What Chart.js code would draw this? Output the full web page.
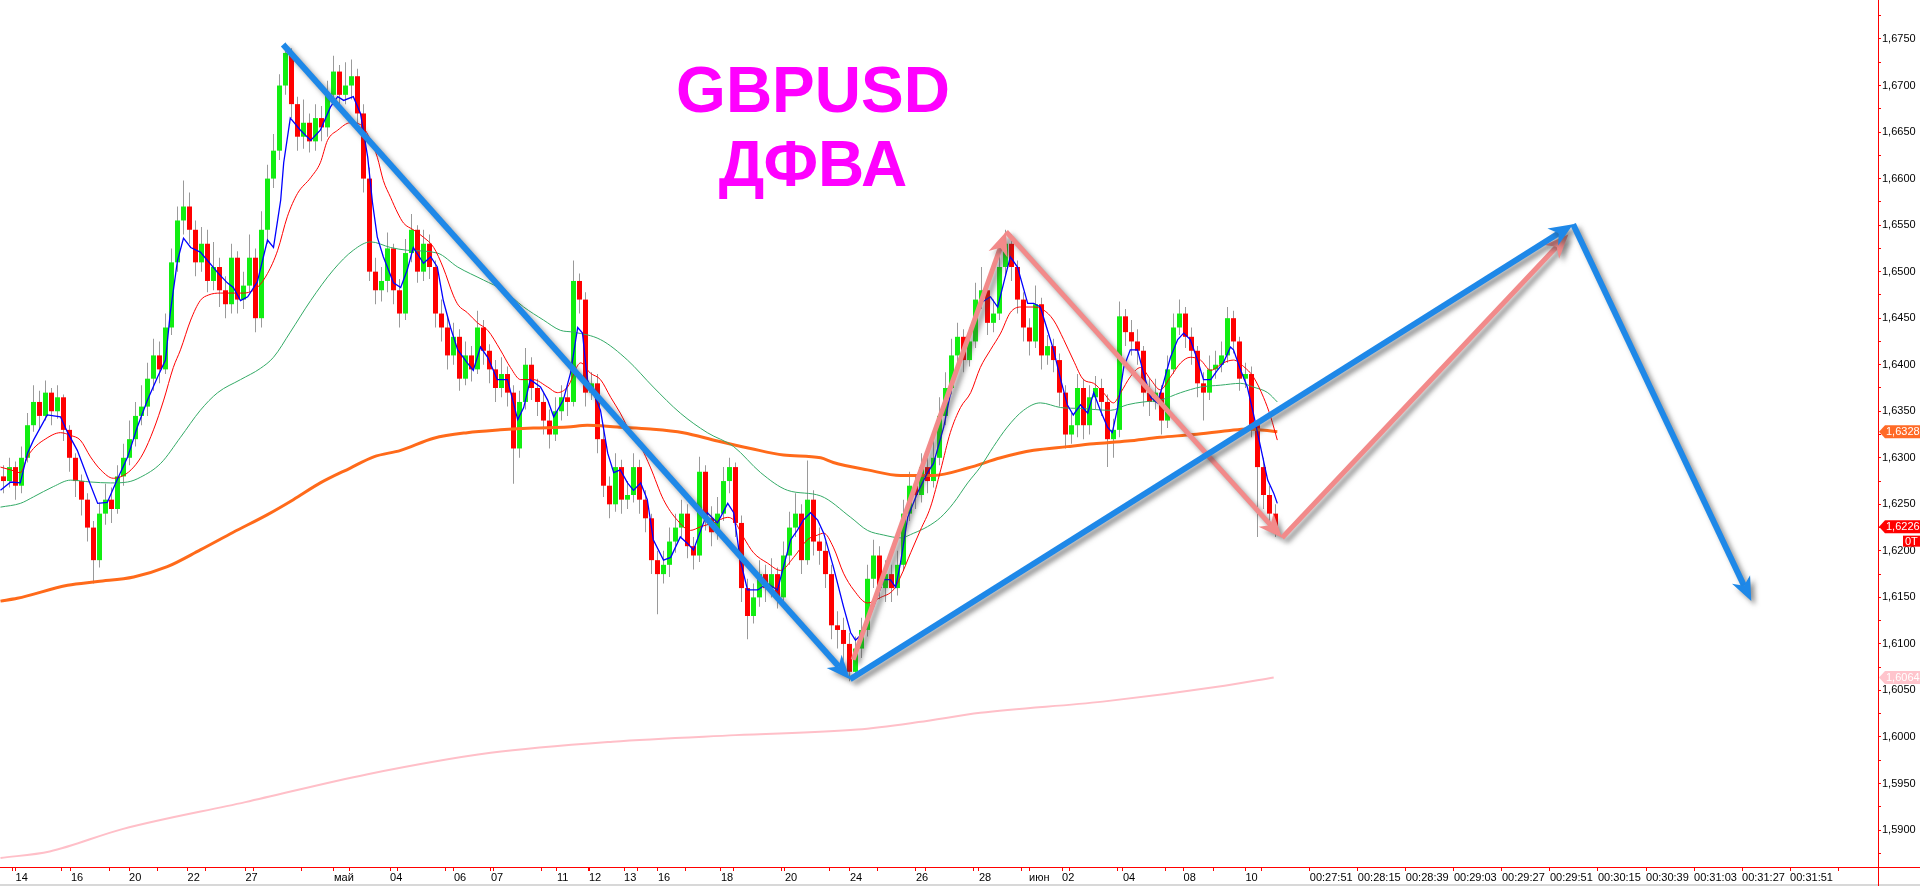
<!DOCTYPE html>
<html>
<head>
<meta charset="utf-8">
<script src="https://cdn.jsdelivr.net/npm/chart.js@4.4.1/dist/chart.umd.min.js"></script>
<style>
  html, body { margin: 0; padding: 0; background: #fff; overflow: hidden; }
  #wrap { width: 1920px; height: 886px; position: relative; }
</style>
</head>
<body>
<div id="wrap"><canvas id="gbpusd"></canvas></div>
<script>
// GBPUSD candles (one value per bar), open of a bar = previous close
const firstOpen = 1.6280;
const close = [
  1.6275, 1.6290, 1.6270, 1.6300, 1.6335, 1.6360, 1.6345, 1.6370, 1.6350, 1.6365,
  1.6330, 1.6300, 1.6275, 1.6255, 1.6225, 1.6190, 1.6240, 1.6255, 1.6245, 1.6280,
  1.6300, 1.6320, 1.6345, 1.6355, 1.6385, 1.6410, 1.6395, 1.6440, 1.6510, 1.6555,
  1.6570, 1.6545, 1.6510, 1.6530, 1.6490, 1.6505, 1.6480, 1.6465, 1.6515, 1.6470,
  1.6485, 1.6515, 1.6450, 1.6545, 1.6600, 1.6630, 1.6700, 1.6735, 1.6680, 1.6645,
  1.6660, 1.6640, 1.6665, 1.6655, 1.6690, 1.6715, 1.6690, 1.6700, 1.6710, 1.6670,
  1.6600, 1.6500, 1.6480, 1.6490, 1.6525, 1.6480, 1.6455, 1.6520, 1.6545, 1.6500,
  1.6530, 1.6505, 1.6455, 1.6440, 1.6410, 1.6430, 1.6385, 1.6410, 1.6395, 1.6440,
  1.6415, 1.6395, 1.6375, 1.6390, 1.6370, 1.6310, 1.6360, 1.6400, 1.6375, 1.6360,
  1.6340, 1.6325, 1.6350, 1.6365, 1.6360, 1.6490, 1.6470, 1.6370, 1.6380, 1.6320,
  1.6270, 1.6250, 1.6290, 1.6255, 1.6260, 1.6290, 1.6255, 1.6235, 1.6190, 1.6175,
  1.6185, 1.6210, 1.6225, 1.6240, 1.6205, 1.6195, 1.6285, 1.6235, 1.6220, 1.6240,
  1.6275, 1.6290, 1.6230, 1.6160, 1.6130, 1.6150, 1.6175, 1.6160, 1.6175, 1.6150,
  1.6195, 1.6225, 1.6240, 1.6190, 1.6255, 1.6210, 1.6200, 1.6175, 1.6120, 1.6115,
  1.6100, 1.6070, 1.6095, 1.6115, 1.6170, 1.6195, 1.6160, 1.6175, 1.6160, 1.6185,
  1.6240, 1.6270, 1.6260, 1.6290, 1.6275, 1.6300, 1.6345, 1.6375, 1.6410, 1.6430,
  1.6405, 1.6425, 1.6470, 1.6480, 1.6445, 1.6455, 1.6505, 1.6530, 1.6505, 1.6470,
  1.6440, 1.6425, 1.6465, 1.6410, 1.6420, 1.6405, 1.6370, 1.6325, 1.6335, 1.6375,
  1.6335, 1.6365, 1.6375, 1.6360, 1.6320, 1.6330, 1.6452, 1.6435, 1.6425, 1.6415,
  1.6370, 1.6360, 1.6370, 1.6340, 1.6395, 1.6440, 1.6455, 1.6430, 1.6415, 1.6380,
  1.6370, 1.6395, 1.6400, 1.6410, 1.6450, 1.6425, 1.6385, 1.6390, 1.6335, 1.6290,
  1.6260, 1.6240, 1.6226
];
const high = [
  1.6292, 1.6300, 1.6296, 1.6312, 1.6348, 1.6378, 1.6372, 1.6383, 1.6375, 1.6378,
  1.6368, 1.6335, 1.6305, 1.6282, 1.6262, 1.6232, 1.6252, 1.6272, 1.6268, 1.6292,
  1.6315, 1.6340, 1.6360, 1.6378, 1.6402, 1.6428, 1.6425, 1.6455, 1.6525, 1.6570,
  1.6598, 1.6585, 1.6555, 1.6548, 1.6545, 1.6532, 1.6515, 1.6495, 1.6530, 1.6522,
  1.6500, 1.6540, 1.6525, 1.6565, 1.6615, 1.6648, 1.6712, 1.6746, 1.6740, 1.6688,
  1.6685, 1.6670, 1.6680, 1.6678, 1.6705, 1.6732, 1.6722, 1.6725, 1.6728, 1.6718,
  1.6680, 1.6612, 1.6515, 1.6505, 1.6542, 1.6530, 1.6492, 1.6535, 1.6562, 1.6550,
  1.6545, 1.6540, 1.6512, 1.6470, 1.6452, 1.6445, 1.6438, 1.6425, 1.6420, 1.6458,
  1.6448, 1.6422, 1.6405, 1.6408, 1.6398, 1.6378, 1.6372, 1.6418, 1.6408, 1.6385,
  1.6370, 1.6352, 1.6365, 1.6378, 1.6380, 1.6512, 1.6498, 1.6478, 1.6392, 1.6390,
  1.6330, 1.6280, 1.6305, 1.6298, 1.6275, 1.6305, 1.6298, 1.6265, 1.6240, 1.6200,
  1.6200, 1.6225, 1.6240, 1.6255, 1.6250, 1.6215, 1.6301, 1.6292, 1.6248, 1.6258,
  1.6290, 1.6300, 1.6295, 1.6238, 1.6170, 1.6165, 1.6190, 1.6185, 1.6192, 1.6182,
  1.6210, 1.6242, 1.6262, 1.6250, 1.6297, 1.6265, 1.6225, 1.6210, 1.6185, 1.6135,
  1.6128, 1.6112, 1.6108, 1.6128, 1.6185, 1.6212, 1.6205, 1.6190, 1.6185, 1.6200,
  1.6255, 1.6285, 1.6280, 1.6305, 1.6300, 1.6318, 1.6365, 1.6392, 1.6428, 1.6445,
  1.6438, 1.6440, 1.6488, 1.6505, 1.6488, 1.6470, 1.6520, 1.6545, 1.6540, 1.6512,
  1.6478, 1.6450, 1.6485, 1.6472, 1.6432, 1.6428, 1.6412, 1.6378, 1.6348, 1.6390,
  1.6385, 1.6378, 1.6388, 1.6385, 1.6368, 1.6342, 1.6468, 1.6460, 1.6448, 1.6438,
  1.6420, 1.6385, 1.6385, 1.6378, 1.6410, 1.6455, 1.6470, 1.6462, 1.6440, 1.6420,
  1.6392, 1.6410, 1.6415, 1.6425, 1.6462, 1.6458, 1.6430, 1.6402, 1.6398, 1.6340,
  1.6300, 1.6270, 1.6250
];
const low = [
  1.6262, 1.6268, 1.6255, 1.6262, 1.6295, 1.6328, 1.6330, 1.6340, 1.6335, 1.6342,
  1.6318, 1.6285, 1.6258, 1.6238, 1.6210, 1.6165, 1.6182, 1.6228, 1.6230, 1.6240,
  1.6270, 1.6292, 1.6312, 1.6335, 1.6345, 1.6372, 1.6380, 1.6390, 1.6432, 1.6500,
  1.6540, 1.6530, 1.6495, 1.6500, 1.6478, 1.6480, 1.6462, 1.6450, 1.6455, 1.6455,
  1.6460, 1.6478, 1.6435, 1.6440, 1.6530, 1.6590, 1.6620, 1.6690, 1.6665, 1.6630,
  1.6632, 1.6628, 1.6630, 1.6640, 1.6645, 1.6680, 1.6675, 1.6680, 1.6685, 1.6655,
  1.6585, 1.6490, 1.6465, 1.6468, 1.6478, 1.6465, 1.6440, 1.6448, 1.6510, 1.6488,
  1.6490, 1.6492, 1.6440, 1.6425, 1.6395, 1.6400, 1.6372, 1.6378, 1.6382, 1.6390,
  1.6400, 1.6380, 1.6360, 1.6365, 1.6355, 1.6272, 1.6300, 1.6352, 1.6362, 1.6345,
  1.6325, 1.6310, 1.6318, 1.6340, 1.6345, 1.6355, 1.6455, 1.6355, 1.6362, 1.6305,
  1.6258, 1.6235, 1.6242, 1.6240, 1.6245, 1.6252, 1.6240, 1.6220, 1.6175, 1.6132,
  1.6165, 1.6172, 1.6198, 1.6215, 1.6192, 1.6180, 1.6188, 1.6222, 1.6205, 1.6212,
  1.6232, 1.6262, 1.6215, 1.6145, 1.6105, 1.6122, 1.6140, 1.6145, 1.6150, 1.6138,
  1.6145, 1.6185, 1.6215, 1.6175, 1.6185, 1.6195, 1.6185, 1.6160, 1.6105, 1.6095,
  1.6082, 1.6060, 1.6065, 1.6085, 1.6108, 1.6160, 1.6148, 1.6145, 1.6145, 1.6152,
  1.6178, 1.6232, 1.6245, 1.6252, 1.6262, 1.6268, 1.6292, 1.6335, 1.6368, 1.6400,
  1.6392, 1.6398, 1.6418, 1.6460, 1.6432, 1.6435, 1.6448, 1.6495, 1.6490, 1.6455,
  1.6425, 1.6410, 1.6418, 1.6395, 1.6400, 1.6392, 1.6355, 1.6310, 1.6315, 1.6322,
  1.6320, 1.6325, 1.6352, 1.6345, 1.6290, 1.6300, 1.6322, 1.6420, 1.6410, 1.6400,
  1.6355, 1.6345, 1.6352, 1.6325, 1.6332, 1.6390, 1.6432, 1.6418, 1.6400, 1.6365,
  1.6340, 1.6362, 1.6385, 1.6392, 1.6402, 1.6412, 1.6372, 1.6375, 1.6322, 1.6215,
  1.6245, 1.6228, 1.6215
];

// moving averages: [bar index, price]
const blueMA = [
  [-0.5,1.6265],[1.2,1.6274],[2.8,1.6273],[4,1.6305],[5,1.6319],[7.3,1.6346],[9.5,1.6344],[10.7,1.6327],
  [12.3,1.6308],[14,1.6279],[15.7,1.6251],[17.3,1.6252],[18.7,1.6273],[20.7,1.6301],[22.3,1.6333],[24,1.6362],
  [25.7,1.6387],[27,1.6405],[27.8,1.6456],[29,1.6512],[30,1.6536],[31.2,1.6526],[32.8,1.6521],[34,1.6512],
  [35.7,1.6499],[37.3,1.6488],[38.3,1.6483],[39.5,1.6469],[40.7,1.6473],[42.3,1.6489],[44,1.6534],[45,1.6526],
  [46.2,1.6577],[46.7,1.6617],[47.8,1.6665],[49.5,1.6652],[51.2,1.6641],[52.8,1.6652],[54.5,1.6677],[55.7,1.6688],
  [56.7,1.6684],[58.3,1.6688],[59.5,1.6670],[60.7,1.6623],[61.5,1.6574],[62.3,1.6537],[63.3,1.6516],[65,1.6488],
  [66.2,1.6483],[67.3,1.6502],[68.3,1.6526],[70,1.6509],[71.2,1.6516],[72.3,1.6505],[73.3,1.6469],[74.5,1.6440],
  [75.7,1.6416],[77.3,1.6402],[78.3,1.6394],[79.5,1.6419],[80.7,1.6408],[82.3,1.6384],[84,1.6384],[85.7,1.6341],
  [86.7,1.6354],[87.8,1.6384],[89.5,1.6376],[90.7,1.6362],[91.7,1.6344],[93.3,1.6362],[94.5,1.6391],[95.7,1.6440],
  [96.5,1.6434],[97.3,1.6384],[98.3,1.6370],[99.5,1.6351],[100.7,1.6305],[101.7,1.6284],[102.8,1.6287],[104,1.6273],
  [105,1.6265],[106.2,1.6273],[107.3,1.6255],[108.3,1.6212],[110,1.6190],[111.2,1.6193],[112.8,1.6215],[114,1.6208],
  [115,1.6201],[116.2,1.6222],[117.3,1.6241],[119,1.6230],[120.7,1.6251],[121.7,1.6241],[122.8,1.6190],[124,1.6158],
  [125.7,1.6158],[127.3,1.6165],[129,1.6158],[130,1.6183],[131.2,1.6212],[132.3,1.6222],[133.3,1.6233],[134.5,1.6241],
  [135.7,1.6233],[136.7,1.6219],[138.3,1.6183],[140,1.6140],[141.2,1.6112],[142,1.6104],[143.3,1.6112],[145,1.6140],
  [146.7,1.6169],[147.8,1.6169],[148.7,1.6161],[149.5,1.6187],[150.7,1.6236],[152.3,1.6262],[154,1.6284],[155,1.6294],
  [156.7,1.6333],[158.3,1.6384],[160,1.6419],[161.7,1.6448],[162.8,1.6466],[164.5,1.6473],[165.7,1.6462],[166.7,1.6488],
  [167.8,1.6516],[169,1.6505],[170.7,1.6466],[171.7,1.6466],[172.8,1.6462],[174,1.6437],[175,1.6416],[176.2,1.6384],
  [177.3,1.6357],[178.3,1.6346],[179.5,1.6357],[180.7,1.6348],[181.7,1.6370],[182.8,1.6351],[184,1.6333],[184.8,1.6327],
  [185.7,1.6354],[186.7,1.6397],[187.8,1.6416],[189,1.6416],[190,1.6391],[191.2,1.6365],[192.3,1.6359],[193.3,1.6380],
  [194.5,1.6408],[195.7,1.6427],[196.7,1.6434],[197.8,1.6427],[199,1.6405],[200,1.6384],[201.2,1.6384],[202.3,1.6394],
  [203.3,1.6402],[204.5,1.6419],[205,1.6416],[206.2,1.6394],[207.3,1.6376],[208.3,1.6348],[209.5,1.6312],[210.7,1.6276],
  [211.7,1.6262],[212.3,1.6251]
];
const redMA = [
  [-0.5,1.6290],[1.2,1.6287],[2.8,1.6284],[4,1.6301],[5,1.6310],[6.7,1.6319],[9.5,1.6327],[11.2,1.6324],
  [12.8,1.6319],[14.5,1.6301],[16.2,1.6287],[18.3,1.6278],[20,1.6281],[21.7,1.6290],[23.3,1.6305],[25,1.6330],
  [26.7,1.6362],[28.3,1.6397],[29.5,1.6416],[31.2,1.6448],[32.8,1.6469],[34.2,1.6475],[36.2,1.6477],[40,1.6477],
  [42.3,1.6483],[44,1.6498],[45.7,1.6523],[47.3,1.6559],[49,1.6584],[51.2,1.6601],[52.8,1.6617],[54,1.6641],
  [55.7,1.6652],[57.8,1.6660],[59.5,1.6658],[61.2,1.6641],[62.3,1.6623],[63.3,1.6598],[64.5,1.6580],[65.7,1.6563],
  [66.7,1.6552],[68.3,1.6545],[70,1.6537],[71.7,1.6526],[73.3,1.6504],[75,1.6474],[75.8,1.6464],[77.3,1.6456],
  [79,1.6445],[80.7,1.6437],[82.8,1.6416],[84.5,1.6397],[86.2,1.6384],[88.3,1.6384],[90.7,1.6376],[92.3,1.6370],
  [94,1.6376],[96.2,1.6402],[97.8,1.6391],[99.5,1.6384],[101.2,1.6365],[102.8,1.6348],[104.5,1.6327],[106.2,1.6312],
  [107.8,1.6290],[110,1.6255],[112.3,1.6233],[114.5,1.6222],[116.2,1.6226],[118.3,1.6230],[120.7,1.6236],[121.7,1.6233],
  [123.3,1.6215],[125,1.6198],[127.3,1.6187],[129.5,1.6179],[131.7,1.6193],[134,1.6212],[135.7,1.6217],[136.7,1.6219],
  [138.3,1.6204],[140,1.6176],[141.7,1.6158],[144,1.6144],[146.2,1.6150],[148.3,1.6158],[149.5,1.6172],[151.2,1.6198],
  [152.8,1.6222],[154.5,1.6247],[156.2,1.6287],[157.8,1.6327],[159.5,1.6354],[161.2,1.6370],[162.8,1.6397],[164.5,1.6416],
  [166.2,1.6434],[167.8,1.6456],[169.5,1.6462],[171.7,1.6462],[173.3,1.6459],[175,1.6448],[176.7,1.6427],[178.3,1.6405],
  [180,1.6384],[181.7,1.6380],[183.3,1.6370],[185,1.6359],[186.2,1.6370],[187.8,1.6387],[189.5,1.6397],[191.2,1.6384],
  [192.8,1.6373],[194.5,1.6387],[196.2,1.6402],[197.8,1.6408],[199.5,1.6405],[201.2,1.6394],[203.3,1.6402],[205,1.6405],
  [206.7,1.6398],[208.3,1.6387],[210,1.6365],[211.2,1.6344],[212.3,1.6319]
];
const greenMA = [
  [-0.5,1.6247],[2.8,1.6251],[5,1.6258],[8.3,1.6269],[11.2,1.6276],[14.5,1.6274],[17.8,1.6273],[20.7,1.6274],
  [22.8,1.6279],[26.2,1.6294],[29.5,1.6322],[32.8,1.6351],[35.7,1.6370],[39.5,1.6384],[42.8,1.6396],[45,1.6408],
  [47.8,1.6435],[51.2,1.6469],[55,1.6502],[58.3,1.6523],[61.2,1.6532],[64.5,1.6526],[67.3,1.6523],[72.3,1.6520],
  [75.7,1.6505],[80,1.6491],[83.3,1.6480],[86.7,1.6462],[90,1.6448],[92.8,1.6437],[95,1.6435],[99.5,1.6427],
  [104,1.6405],[108.3,1.6376],[112.8,1.6348],[117.3,1.6327],[121.7,1.6312],[126.2,1.6284],[130.7,1.6265],[136.2,1.6259],
  [141.2,1.6236],[144,1.6222],[146.7,1.6217],[149.5,1.6214],[151.7,1.6219],[154,1.6226],[156.2,1.6236],[158.3,1.6251],
  [160.7,1.6273],[162.8,1.6290],[165,1.6312],[167.3,1.6333],[170,1.6351],[172.8,1.6359],[176.2,1.6354],[179.5,1.6353],
  [184.5,1.6351],[187.3,1.6357],[190,1.6360],[192.8,1.6362],[196.2,1.6370],[199.5,1.6376],[202.8,1.6378],[206.2,1.6380],
  [208.3,1.6376],[210.7,1.6370],[212.3,1.6360]
];
const orangeMA = [
  [-0.5,1.6146],[2.3,1.6149],[10.7,1.6163],[15.7,1.6167],[21.7,1.6172],[27.3,1.6183],[32.8,1.6201],[38.3,1.6220],
  [44,1.6239],[48.3,1.6255],[52.8,1.6273],[57.8,1.6289],[61.7,1.6301],[66.2,1.6308],[71.7,1.6321],[77.3,1.6327],
  [82.8,1.6330],[88.3,1.6332],[94,1.6333],[97.3,1.6335],[102.3,1.6333],[107.8,1.6331],[113.3,1.6327],[119,1.6318],
  [124.5,1.6310],[130,1.6303],[136.2,1.6300],[138.3,1.6295],[144,1.6287],[149.5,1.6281],[155,1.6281],[160.7,1.6289],
  [166.2,1.6300],[171.7,1.6308],[177.3,1.6312],[181.7,1.6315],[187.3,1.6318],[192.8,1.6322],[198.3,1.6325],[204,1.6329],
  [207.3,1.6331],[212.3,1.6328]
];
const pinkMA = [
  [-0.5,1.5870],[7.7,1.5877],[19.8,1.5901],[40.3,1.5930],[60.7,1.5960],[81.2,1.5983],[101.5,1.5995],[122,1.6002],
  [142.3,1.6008],[152.5,1.6016],[162.8,1.6026],[183.2,1.6038],[203.5,1.6055],[211.7,1.6064]
];

// hand-drawn arrows: [bar index, price] start -> end (head at end)
const blueArrows = [
  [[46.6, 1.6744], [141.1, 1.6062]],
  [[141.1, 1.6062], [261.6, 1.6551]],
  [[261.6, 1.6551], [291.3, 1.6146]]
];
const pinkArrows = [
  [[141.6, 1.6083], [167.1, 1.6543]],
  [[167.1, 1.6543], [213.1, 1.6214]],
  [[213.1, 1.6214], [260.8, 1.6540]]
];

// axis labels
const dateTicks = [2.02, 11.25, 20.92, 30.67, 40.33, 55.08, 64.42, 75.08, 81.25, 92.25, 97.58, 103.42,
  109.08, 119.58, 130.25, 141.08, 152.08, 162.58, 170.92, 176.42, 186.58, 196.67, 207.0];
const dateLabels = ['14', '16', '20', '22', '27', 'май', '04', '06', '07', '11', '12', '13',
  '16', '18', '20', '24', '26', '28', 'июн', '02', '04', '08', '10'];
const timeLabels = ['00:27:51', '00:28:15', '00:28:39', '00:29:03', '00:29:27', '00:29:51',
  '00:30:15', '00:30:39', '00:31:03', '00:31:27', '00:31:51'];
const priceTicks = [1.5900, 1.5950, 1.6000, 1.6050, 1.6100, 1.6150, 1.6200, 1.6250, 1.6300,
  1.6350, 1.6400, 1.6450, 1.6500, 1.6550, 1.6600, 1.6650, 1.6700, 1.6750];

const GREEN = '#11EE11';
const RED = '#FF0000';
const WICK = '#9A9A9A';
const FONT = '"Liberation Sans", Arial, sans-serif';
const X_MIN = -0.5833, X_MAX = 312.4167;
const Y_MIN = 1.58603, Y_MAX = 1.67919;

const open = close.map((c, i) => (i === 0 ? firstOpen : close[i - 1]));
const wickData = close.map((c, i) => ({ x: i, y: [Math.min(low[i], open[i], c), Math.max(high[i], open[i], c)] }));
const bodyData = close.map((c, i) => ({ x: i, y: [open[i], c] }));
const bodyColors = close.map((c, i) => (c >= open[i] ? GREEN : RED));
const pts = arr => arr.map(([x, y]) => ({ x, y }));

// x ticks: regular marks every 8 bars, date marks with labels
const xTicks = [];
for (let k = 0; k <= 38; k++) {
  const t = k - 27;
  xTicks.push({ v: 1.583 + 8.005 * k, label: t >= 0 && t < timeLabels.length ? timeLabels[t] : '' });
}
dateTicks.forEach((v, i) => xTicks.push({ v, label: dateLabels[i] }));
xTicks.sort((a, b) => a.v - b.v);

const yTicks = [];
priceTicks.forEach(v => { yTicks.push({ value: v - 0.0025 }); yTicks.push({ value: v }); });
yTicks.push({ value: 1.6775 });
const isMajor = v => priceTicks.some(p => Math.abs(p - v) < 1e-6);
const fmt = v => v.toFixed(4).replace('.', ',');

function lineSet(data, color, width, order, smooth) {
  return {
    type: 'line', data: pts(data), borderColor: color, borderWidth: width, pointRadius: 0,
    fill: false, order, tension: smooth ? 0.4 : 0, cubicInterpolationMode: smooth ? 'monotone' : 'default'
  };
}

function drawArrow(ctx, x1, y1, x2, y2, color, width, len, half) {
  const dx = x2 - x1, dy = y2 - y1, d = Math.hypot(dx, dy);
  const ux = dx / d, uy = dy / d, px = -uy, py = ux;
  const bx = x2 - ux * len, by = y2 - uy * len;
  const nx = x2 - ux * (len - 7), ny = y2 - uy * (len - 7);
  ctx.save();
  ctx.shadowColor = 'rgba(60,60,60,0.55)';
  ctx.shadowBlur = 5;
  ctx.shadowOffsetX = 4;
  ctx.shadowOffsetY = 4;
  ctx.strokeStyle = color;
  ctx.fillStyle = color;
  ctx.lineWidth = width;
  ctx.beginPath();
  ctx.moveTo(x1, y1);
  ctx.lineTo(nx, ny);
  ctx.stroke();
  ctx.beginPath();
  ctx.moveTo(x2, y2);
  ctx.lineTo(bx + px * half, by + py * half);
  ctx.lineTo(nx, ny);
  ctx.lineTo(bx - px * half, by - py * half);
  ctx.closePath();
  ctx.fill();
  ctx.restore();
}

const arrowPlugin = {
  id: 'arrows',
  afterDatasetsDraw(chart) {
    const { ctx, scales: { x, y } } = chart;
    const draw = (list, color, w) => list.forEach(([a, b]) => drawArrow(ctx,
      x.getPixelForValue(a[0]), y.getPixelForValue(a[1]),
      x.getPixelForValue(b[0]), y.getPixelForValue(b[1]), color, w, 24, 10));
    draw(pinkArrows, '#F28A8A', 5);
    draw(blueArrows, '#1E88E8', 6);
  }
};

const titlePlugin = {
  id: 'title',
  afterDatasetsDraw(chart) {
    const { ctx } = chart;
    ctx.save();
    ctx.fillStyle = '#FF00FF';
    ctx.font = 'bold 64px ' + FONT;
    ctx.textAlign = 'center';
    ctx.textBaseline = 'alphabetic';
    ctx.fillText('GBPUSD', 813, 112);
    ctx.fillText('ДФВА', 813, 186);
    ctx.restore();
  }
};

function marker(ctx, left, yPix, value, bg) {
  const h = 13;
  ctx.fillStyle = bg;
  ctx.beginPath();
  ctx.moveTo(left + 1, yPix);
  ctx.lineTo(left + 7, yPix - h / 2);
  ctx.lineTo(1920, yPix - h / 2);
  ctx.lineTo(1920, yPix + h / 2);
  ctx.lineTo(left + 7, yPix + h / 2);
  ctx.closePath();
  ctx.fill();
  ctx.fillStyle = '#FFFFFF';
  ctx.font = '11px ' + FONT;
  ctx.textAlign = 'left';
  ctx.textBaseline = 'middle';
  ctx.fillText(fmt(value), left + 8, yPix + 0.5);
}

const framePlugin = {
  id: 'frame',
  afterDraw(chart) {
    const { ctx, chartArea: a, width, height, scales: { y } } = chart;
    ctx.save();
    ctx.fillStyle = '#D8D8D8';
    ctx.fillRect(0, height - 2, width, 2);
    ctx.strokeStyle = RED;
    ctx.lineWidth = 1;
    ctx.beginPath();
    ctx.moveTo(a.right + 0.5, 0);
    ctx.lineTo(a.right + 0.5, height);
    ctx.moveTo(0, a.bottom + 0.5);
    ctx.lineTo(width, a.bottom + 0.5);
    ctx.stroke();
    const lastOrange = orangeMA[orangeMA.length - 1][1];
    const lastPink = pinkMA[pinkMA.length - 1][1];
    const lastClose = close[close.length - 1];
    marker(ctx, a.right, y.getPixelForValue(lastOrange), lastOrange, '#FF6A26');
    marker(ctx, a.right, y.getPixelForValue(lastPink), lastPink, '#FFC4CC');
    const yc = y.getPixelForValue(lastClose);
    marker(ctx, a.right, yc, lastClose, RED);
    ctx.fillStyle = RED;
    ctx.fillRect(1903, yc + 9, 17, 11);
    ctx.fillStyle = '#FFFFFF';
    ctx.font = '11px ' + FONT;
    ctx.textAlign = 'left';
    ctx.textBaseline = 'middle';
    ctx.fillText('0T', 1905, yc + 15);
    ctx.restore();
  }
};

new Chart(document.getElementById('gbpusd'), {
  type: 'bar',
  data: {
    datasets: [
      lineSet(blueMA, '#0000FF', 1.3, 0, false),
      lineSet(redMA, '#FF0000', 1, 1, true),
      lineSet(greenMA, '#33AA66', 1, 2, true),
      lineSet(orangeMA, '#FF6A1A', 3, 3, true),
      lineSet(pinkMA, '#FFBFC8', 2, 4, true),
      {
        type: 'bar', data: bodyData, backgroundColor: bodyColors, barThickness: 5, minBarLength: 1,
        grouped: false, borderWidth: 0, inflateAmount: 0, order: 5
      },
      {
        type: 'bar', data: wickData, backgroundColor: WICK, barThickness: 1,
        grouped: false, borderWidth: 0, inflateAmount: 0, order: 6
      }
    ]
  },
  options: {
    responsive: true,
    maintainAspectRatio: false,
    devicePixelRatio: 1,
    animation: false,
    events: [],
    layout: { padding: 0 },
    plugins: { legend: { display: false }, tooltip: { enabled: false } },
    scales: {
      x: {
        type: 'linear', min: X_MIN, max: X_MAX, offset: false,
        afterBuildTicks: s => { s.ticks = xTicks.map(t => ({ value: t.v })); },
        ticks: {
          autoSkip: false, maxRotation: 0, minRotation: 0, align: 'start', padding: 0,
          color: '#000', font: { family: FONT, size: 11 },
          callback: (v, i) => xTicks[i].label
        },
        grid: { drawOnChartArea: false, drawTicks: true, tickLength: 4, color: RED, offset: false },
        border: { display: false },
        afterFit: s => { s.height = 19; s.paddingLeft = 0; s.paddingRight = 0; }
      },
      y: {
        type: 'linear', position: 'right', min: Y_MIN, max: Y_MAX,
        afterBuildTicks: s => { s.ticks = yTicks.slice(); },
        ticks: {
          padding: 1, color: '#000', font: { family: FONT, size: 11 },
          callback: v => (isMajor(v) ? fmt(v) : '')
        },
        grid: { drawOnChartArea: false, drawTicks: true, tickLength: 3, color: RED },
        border: { display: false },
        afterFit: s => { s.width = 42; s.paddingTop = 0; s.paddingBottom = 0; }
      }
    }
  },
  plugins: [arrowPlugin, titlePlugin, framePlugin]
});
</script>
</body>
</html>
